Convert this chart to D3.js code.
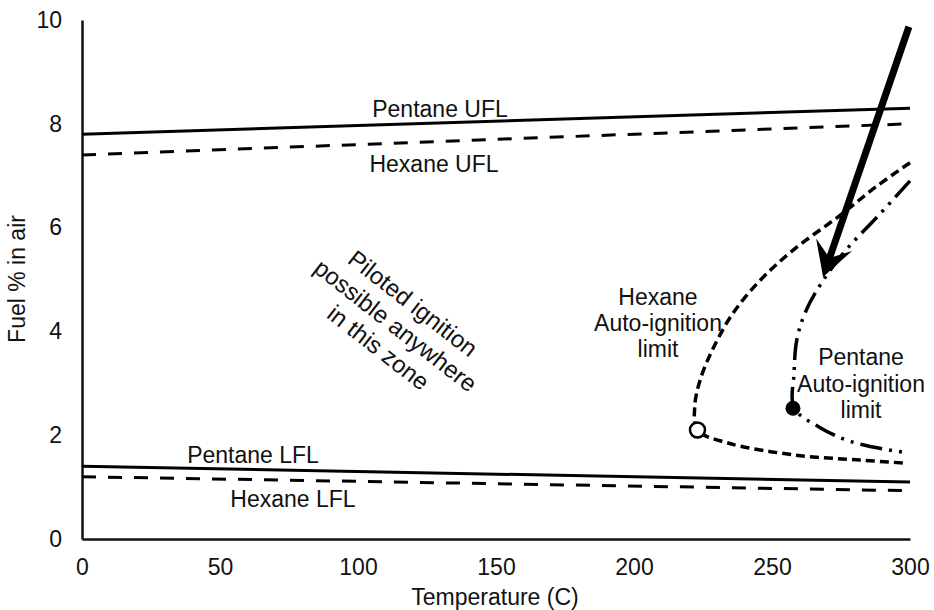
<!DOCTYPE html>
<html><head><meta charset="utf-8">
<script src="https://cdn.jsdelivr.net/npm/d3@7"></script>
<style>
html,body{margin:0;padding:0;background:#fff;}
svg text{font-family:"Liberation Sans",Arial,sans-serif;fill:#111;}
</style></head>
<body><div id="chart"></div>
<script>
// ---- data ----
const xTicks = [0, 50, 100, 150, 200, 250, 300];
const yTicks = [0, 2, 4, 6, 8, 10];
const flT = [0, 300];
const pentaneUFL = [7.8, 8.3];
const hexaneUFL = [7.4, 8.0];
const pentaneLFL = [1.4, 1.1];
const hexaneLFL = [1.2, 0.93];
const hexaneAutoT = [300, 288, 275, 258, 246, 236, 229, 224, 222, 223, 234, 258, 282, 299];
const hexaneAutoY = [7.25, 6.8, 6.25, 5.58, 5.0, 4.36, 3.71, 3.07, 2.55, 2.1, 1.85, 1.62, 1.52, 1.46];
const pentaneAutoT = [300, 288, 277, 268, 262, 259, 258, 258, 267, 279, 299];
const pentaneAutoY = [6.9, 6.2, 5.58, 4.94, 4.36, 3.84, 3.2, 2.53, 2.16, 1.87, 1.66];
const hexaneMarker = [223, 2.1];
const pentaneMarker = [257.6, 2.52];
const arrowStart = [299.6, 9.87];
const arrowEnd = [268.5, 5.05];

const W = 934, H = 610, FS = 23;
const svg = d3.select("#chart").append("svg").attr("width", W).attr("height", H);
const x = d3.scaleLinear().domain([0, 300]).range([82, 910]);
const y = d3.scaleLinear().domain([0, 10]).range([539, 20]);

// axes (lines only, no tick marks)
const xAxis = d3.axisBottom(x).tickValues(xTicks).tickSize(0).tickPadding(0).tickFormat(d3.format("d"));
const gx = svg.append("g").attr("transform", "translate(0,539)").call(xAxis);
gx.select(".domain").attr("stroke", "#111").attr("stroke-width", 2.5);
gx.selectAll("text").attr("font-size", FS).attr("dy", null).attr("y", 36).attr("fill", "#111");

const yAxis = d3.axisLeft(y).tickValues(yTicks).tickSize(0).tickPadding(20).tickFormat(d3.format("d"));
const gy = svg.append("g").attr("transform", "translate(82,0)").call(yAxis);
gy.select(".domain").attr("stroke", "#111").attr("stroke-width", 2.5);
gy.selectAll("text").attr("font-size", FS).attr("fill", "#111");
svg.selectAll(".tick line").remove();

svg.append("text").attr("x", 495).attr("y", 605).attr("text-anchor", "middle")
  .attr("font-size", FS).text("Temperature (C)");
svg.append("text").attr("transform", "translate(25,279) rotate(-90)").attr("text-anchor", "middle")
  .attr("font-size", FS).text("Fuel % in air");

const line = d3.line().x(d => x(d[0])).y(d => y(d[1]));
const curve = d3.line().x(d => x(d[0])).y(d => y(d[1])).curve(d3.curveCatmullRom.alpha(0.5));
const zip = (a, b) => a.map((v, i) => [v, b[i]]);

function draw(pts, gen, dash, w) {
  svg.append("path").attr("d", gen(pts)).attr("fill", "none").attr("stroke", "#000")
    .attr("stroke-width", w).attr("stroke-dasharray", dash);
}
draw(zip(flT, pentaneUFL), line, null, 3);
draw(zip(flT, hexaneUFL), line, "14,12", 3);
draw(zip(flT, pentaneLFL), line, null, 3);
draw(zip(flT, hexaneLFL), line, "14,12", 3);
draw(zip(hexaneAutoT, hexaneAutoY), curve, "9,5", 3.5);
draw(zip(pentaneAutoT, pentaneAutoY), curve, "22,7,3,7,3,7", 3.5);

// markers
svg.append("circle").attr("cx", x(hexaneMarker[0])).attr("cy", y(hexaneMarker[1])).attr("r", 7.5)
  .attr("fill", "#fff").attr("stroke", "#000").attr("stroke-width", 2.5);
svg.append("circle").attr("cx", x(pentaneMarker[0])).attr("cy", y(pentaneMarker[1])).attr("r", 7.5)
  .attr("fill", "#000");

// arrow
(function(){
  const sx = x(arrowStart[0]), sy = y(arrowStart[1]);
  const tx = x(arrowEnd[0]), ty = y(arrowEnd[1]);
  const dx = sx - tx, dy = sy - ty, L = Math.hypot(dx, dy);
  const ux = dx / L, uy = dy / L, px = -uy, py = ux;
  const nx = tx + ux * 20, ny = ty + uy * 20;
  svg.append("line").attr("x1", sx).attr("y1", sy).attr("x2", nx).attr("y2", ny)
    .attr("stroke", "#000").attr("stroke-width", 7);
  const p = [
    [tx, ty],
    [tx + ux * 34 + px * 19, ty + uy * 34 + py * 19],
    [nx, ny],
    [tx + ux * 34 - px * 19, ty + uy * 34 - py * 19]
  ];
  svg.append("path").attr("d", "M" + p.map(q => q.join(",")).join("L") + "Z").attr("fill", "#000");
})();

// labels
function label(tx, ty, s) {
  svg.append("text").attr("x", tx).attr("y", ty).attr("text-anchor", "middle").attr("font-size", FS).text(s);
}
label(440, 117, "Pentane UFL");
label(434, 172, "Hexane UFL");
label(253, 463, "Pentane LFL");
label(293, 507, "Hexane LFL");
label(658, 305, "Hexane");
label(658, 331, "Auto-ignition");
label(658, 357, "limit");
label(861, 365, "Pentane");
label(861, 392, "Auto-ignition");
label(861, 418, "limit");

const rot = svg.append("text").attr("transform", "translate(396,325) rotate(38)")
  .attr("text-anchor", "middle").attr("font-size", 24).attr("dominant-baseline", "central");
["Piloted ignition", "possible anywhere", "in this zone"].forEach((s, i) => {
  rot.append("tspan").attr("x", 0).attr("y", (i - 1) * 28).text(s);
});
</script></body></html>
